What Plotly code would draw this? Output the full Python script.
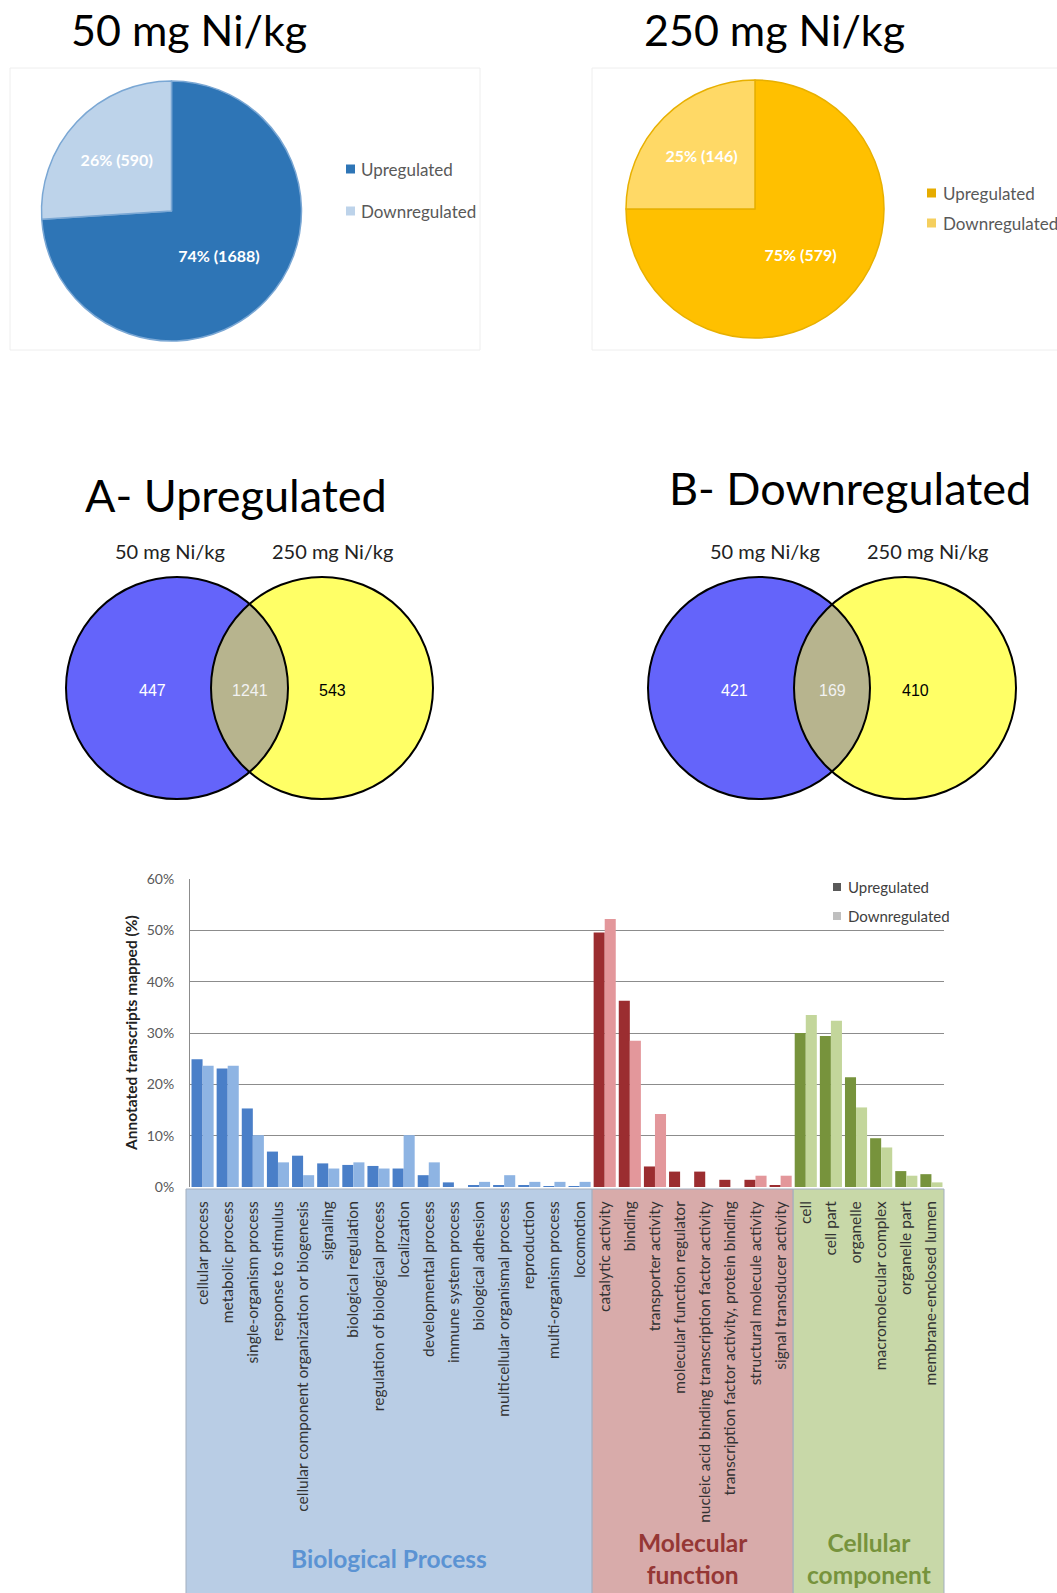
import numpy as np
import plotly.graph_objects as go

W, H = 1057, 1593

# ---------------- data ----------------
pie_labels = ["Upregulated", "Downregulated"]
pie50_pct = [74, 26]
pie50_counts = [1688, 590]
pie250_pct = [75, 25]
pie250_counts = [579, 146]

venn_set_labels = ["50 mg Ni/kg", "250 mg Ni/kg"]
venn_up_counts = [447, 1241, 543]     # only 50, both, only 250
venn_down_counts = [421, 169, 410]

bp_terms = ["cellular process", "metabolic process", "single-organism process",
            "response to stimulus", "cellular component organization or biogenesis",
            "signaling", "biological regulation", "regulation of biological process",
            "localization", "developmental process", "immune system process",
            "biological adhesion", "multicellular organismal process", "reproduction",
            "multi-organism process", "locomotion"]
mf_terms = ["catalytic activity", "binding", "transporter activity",
            "molecular function regulator",
            "nucleic acid binding transcription factor activity",
            "transcription factor activity, protein binding",
            "structural molecule activity", "signal transducer activity"]
cc_terms = ["cell", "cell part", "organelle", "macromolecular complex",
            "organelle part", "membrane-enclosed lumen"]

bp_up = [24.9, 23.1, 15.3, 6.9, 6.1, 4.6, 4.3, 4.1, 3.6, 2.3, 0.9, 0.3, 0.3, 0.3, 0.1, 0.1]
bp_down = [23.6, 23.6, 10.1, 4.8, 2.3, 3.6, 4.8, 3.6, 10.1, 4.8, 0.0, 1.0, 2.3, 1.0, 1.0, 1.0]
mf_up = [49.6, 36.3, 4.0, 3.0, 3.0, 1.4, 1.4, 0.3]
mf_down = [52.2, 28.5, 14.2, 0.0, 0.0, 0.0, 2.2, 2.2]
cc_up = [30.0, 29.4, 21.4, 9.5, 3.1, 2.5]
cc_down = [33.5, 32.4, 15.5, 7.7, 2.2, 0.9]

y_ticks = [0, 10, 20, 30, 40, 50, 60]
group_names = ["Biological Process", "Molecular<br>function", "Cellular<br>component"]

# ---------------- style ----------------
FONT = "Lato, Carlito, Calibri, sans-serif"
GROUP_STYLE = {
    "bp": dict(up="#4A7FC8", down="#8EB4E3", band="#B9CDE5", label="#5B93D3"),
    "mf": dict(up="#9B2D30", down="#E3979B", band="#D8ABAA", label="#953735"),
    "cc": dict(up="#77933C", down="#C3D69B", band="#C8D8A8", label="#77933C"),
}


def px(x):
    return x / W


def py(y):
    return 1 - y / H


fig = go.Figure()
shapes = []
annotations = []

# ---------------- pies ----------------
def add_pie(cx, cy, r, pct, counts, colors, line_color):
    fig.add_trace(go.Pie(
        labels=pie_labels, values=pct, sort=False, direction="clockwise",
        rotation=0,
        text=[f"{p}% ({c})" for p, c in zip(pct, counts)],
        textinfo="text", textposition="inside",
        insidetextorientation="horizontal",
        textfont=dict(family=FONT, size=16, color="white", weight="bold"),
        marker=dict(colors=colors, line=dict(color=line_color, width=1.5)),
        domain=dict(x=[px(cx - r), px(cx + r)], y=[py(cy + r), py(cy - r)]),
        showlegend=False, hoverinfo="label+value",
    ))


add_pie(171.5, 211, 130, pie50_pct, pie50_counts, ["#2E75B6", "#BDD3EA"], "#7AA7D4")
add_pie(755, 209, 129, pie250_pct, pie250_counts, ["#FFC000", "#FFD966"], "#E8B000")

# faint panel frames
shapes.append(dict(type="rect", xref="paper", yref="paper", x0=px(10), x1=px(480),
                   y0=py(350), y1=py(68), line=dict(color="#EEEEEE", width=1)))
shapes.append(dict(type="rect", xref="paper", yref="paper", x0=px(592), x1=px(1070),
                   y0=py(350), y1=py(68), line=dict(color="#EEEEEE", width=1)))

# pie titles
for txt, x in [("50 mg Ni/kg", 189), ("250 mg Ni/kg", 774)]:
    annotations.append(dict(text=txt, x=px(x), y=py(30), xref="paper", yref="paper",
                            showarrow=False, xanchor="center", yanchor="middle",
                            font=dict(family=FONT, size=43, color="black")))


def legend_items(x_sq, ys, colors, labels, size, fsize, color, gap=5):
    for yy, c, lab in zip(ys, colors, labels):
        shapes.append(dict(type="rect", xref="paper", yref="paper",
                           x0=px(x_sq), x1=px(x_sq + size),
                           y0=py(yy + size / 2), y1=py(yy - size / 2),
                           fillcolor=c, line=dict(width=0), layer="above"))
        annotations.append(dict(text=lab, x=px(x_sq + size + gap), y=py(yy),
                                xref="paper", yref="paper", showarrow=False,
                                xanchor="left", yanchor="middle",
                                font=dict(family=FONT, size=fsize, color=color)))


legend_items(346, [169, 211], ["#2E75B6", "#BDD3EA"], pie_labels, 9, 17, "#595959", 4)
legend_items(927, [193, 223], ["#E6AC00", "#F5CF5E"], pie_labels, 9, 17, "#595959", 5)

# ---------------- venn diagrams ----------------
def add_venn(title, title_x, title_y, c1x, c2x, cy, r, counts, sub_xs):
    annotations.append(dict(text=title, x=px(title_x), y=py(title_y), xref="paper",
                            yref="paper", showarrow=False, xanchor="center",
                            yanchor="middle",
                            font=dict(family=FONT, size=45, color="black")))
    for lab, sx in zip(venn_set_labels, sub_xs):
        annotations.append(dict(text=lab, x=px(sx), y=py(551), xref="paper",
                                yref="paper", showarrow=False, xanchor="center",
                                yanchor="middle",
                                font=dict(family=FONT, size=20, color="#222222")))

    def circ(cx, fill, line):
        return dict(type="circle", xref="paper", yref="paper",
                    x0=px(cx - r), x1=px(cx + r), y0=py(cy + r), y1=py(cy - r),
                    fillcolor=fill, line=line, layer="above")

    shapes.append(circ(c1x, "#6464FA", dict(width=0)))
    shapes.append(circ(c2x, "#FFFF66", dict(width=0)))
    # lens (intersection)
    a = (c2x - c1x) / 2
    th = np.arccos(a / r)
    t1 = np.linspace(-th, th, 60)
    t2 = np.linspace(np.pi - th, np.pi + th, 60)
    xs = np.concatenate([c1x + r * np.cos(t1), c2x + r * np.cos(t2)])
    ys = np.concatenate([cy - r * np.sin(t1), cy - r * np.sin(t2)])
    path = "M " + " L ".join(f"{px(x):.5f},{py(y):.5f}" for x, y in zip(xs, ys)) + " Z"
    shapes.append(dict(type="path", xref="paper", yref="paper", path=path,
                       fillcolor="#B7B48E", line=dict(width=0), layer="above"))
    shapes.append(circ(c1x, "rgba(0,0,0,0)", dict(color="black", width=2)))
    shapes.append(circ(c2x, "rgba(0,0,0,0)", dict(color="black", width=2)))

    pos = [c1x - 25, (c1x + c2x) / 2, c2x + 10]
    cols = ["white", "#F2F2F2", "black"]
    for v, xx, cc in zip(counts, pos, cols):
        annotations.append(dict(text=str(v), x=px(xx), y=py(cy + 2), xref="paper",
                                yref="paper", showarrow=False, xanchor="center",
                                yanchor="middle",
                                font=dict(family="Liberation Sans, Arial", size=16,
                                          color=cc)))


add_venn("A- Upregulated", 236, 495, 177, 322, 688, 111, venn_up_counts, [170, 332])
add_venn("B- Downregulated", 850, 488, 759, 905, 688, 111, venn_down_counts, [765, 927])

# ---------------- GO bar chart ----------------
categories = bp_terms + mf_terms + cc_terms
up_vals = bp_up + mf_up + cc_up
down_vals = bp_down + mf_down + cc_down
groups = ["bp"] * len(bp_terms) + ["mf"] * len(mf_terms) + ["cc"] * len(cc_terms)
n = len(categories)

X0, X1, Y0, Y1 = 190, 944, 879, 1187   # plot area in pixels

fig.add_trace(go.Bar(x=categories, y=up_vals, name="Upregulated",
                     marker=dict(color=[GROUP_STYLE[g]["up"] for g in groups],
                                 line=dict(width=0)),
                     showlegend=False, xaxis="x", yaxis="y"))
fig.add_trace(go.Bar(x=categories, y=down_vals, name="Downregulated",
                     marker=dict(color=[GROUP_STYLE[g]["down"] for g in groups],
                                 line=dict(width=0)),
                     showlegend=False, xaxis="x", yaxis="y"))


def xcat(v):
    return X0 + (v + 0.5) * (X1 - X0) / n


# group bands below the axis
start = 0
for key, name, cnt in zip(["bp", "mf", "cc"], group_names,
                          [len(bp_terms), len(mf_terms), len(cc_terms)]):
    xa = xcat(start - 0.5) - (4 if start == 0 else 0)
    xb = xcat(start + cnt - 0.5)
    st = GROUP_STYLE[key]
    shapes.append(dict(type="rect", xref="paper", yref="paper", x0=px(xa), x1=px(xb),
                       y0=py(H + 12), y1=py(Y1 + 2), fillcolor=st["band"],
                       line=dict(color="#A3AFBF", width=1), layer="below"))
    annotations.append(dict(text=name, x=px((xa + xb) / 2), y=py(1558), xref="paper",
                            yref="paper", showarrow=False, xanchor="center",
                            yanchor="middle",
                            font=dict(family=FONT, size=24.5, color=st["label"],
                                      weight="bold")))
    start += cnt

# y-axis title
annotations.append(dict(text="Annotated transcripts mapped (%)", x=px(131), y=py(1033),
                        xref="paper", yref="paper", showarrow=False, textangle=-90,
                        xanchor="center", yanchor="middle",
                        font=dict(family=FONT, size=15.5, color="#222222",
                                  weight="bold")))

# bar legend
shapes.append(dict(type="rect", xref="paper", yref="paper", x0=px(824), x1=px(962),
                   y0=py(927), y1=py(862), fillcolor="white", line=dict(width=0),
                   layer="above"))
legend_items(833, [887, 916], ["#595959", "#BFBFBF"], ["Upregulated", "Downregulated"],
             8, 15, "#404040", 5)

fig.update_layout(
    width=W, height=H, margin=dict(l=0, r=0, t=0, b=0),
    paper_bgcolor="white", plot_bgcolor="white",
    font=dict(family=FONT, color="#333333"),
    showlegend=False, barmode="group", bargap=0.12, bargroupgap=0.0,
    xaxis=dict(domain=[px(X0), px(X1)], range=[-0.5, n - 0.5], tickangle=-90,
               tickfont=dict(family=FONT, size=15.5, color="#333333"),
               ticks="outside", ticklen=7, tickcolor="rgba(0,0,0,0)",
               showgrid=False, showline=False, zeroline=False, anchor="y",
               automargin=False),
    yaxis=dict(domain=[py(Y1), py(Y0)], range=[0, 60], tickvals=y_ticks,
               ticktext=[f"{t}%" for t in y_ticks],
               tickfont=dict(family=FONT, size=14, color="#595959"),
               ticks="outside", ticklen=12, tickcolor="rgba(0,0,0,0)",
               showgrid=True, gridcolor="#8C8C8C", gridwidth=1,
               showline=True, linecolor="#8C8C8C", linewidth=1,
               zeroline=False, anchor="x", automargin=False),
    shapes=shapes, annotations=annotations,
)

fig.write_html("out.html", config={"displayModeBar": False},
               post_script="document.body.style.margin='0px';")
